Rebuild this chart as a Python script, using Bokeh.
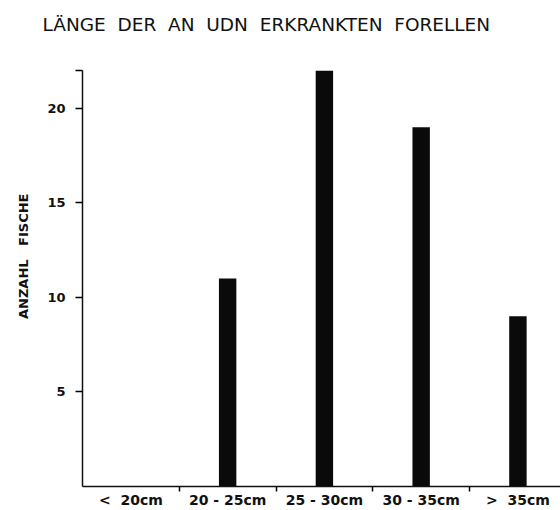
from bokeh.plotting import figure
from bokeh.models import Range1d, FixedTicker, Title
from bokeh.embed import file_html
from bokeh.resources import INLINE

NB = "\u00a0"
title_words = ["LÄNGE", "DER", "AN", "UDN", "ERKRANKTEN", "FORELLEN"]
y_label_words = ["ANZAHL", "FISCHE"]
categories = ["<" + NB + NB + "20cm", "20 - 25cm", "25 - 30cm", "30 - 35cm", ">" + NB + NB + "35cm"]
counts = [0, 11, 22, 19, 9]
y_ticks = [5, 10, 15, 20]
y_max = 22

centers = [i + 0.5 for i in range(len(categories))]
bounds = [i + 1 for i in range(len(categories) - 1)]

p = figure(width=560, height=510, output_backend="svg", toolbar_location=None,
           x_range=Range1d(0, 4.94), y_range=Range1d(0, y_max),
           min_border_left=82, min_border_right=0, min_border_top=70, min_border_bottom=0)
p.background_fill_color = "white"
p.border_fill_color = "white"
p.outline_line_color = None
p.grid.visible = False

# spacer between frame and title
p.add_layout(Title(text=NB, text_font_size="10px", standoff=8), "above")
t = Title(text=(NB * 2).join(title_words), align="left", offset=-40, standoff=26,
          vertical_align="top",
          text_font="DejaVu Sans", text_font_size="18.5px", text_font_style="normal",
          text_color="#111111")
p.add_layout(t, "above")

yl = Title(text=(NB * 3).join(y_label_words), align="right", offset=123, standoff=24,
           vertical_align="top",
           text_font="DejaVu Sans", text_font_size="13px", text_font_style="bold",
           text_color="#111111")
p.add_layout(yl, "left")

p.vbar(x=centers, top=counts, width=0.18, bottom=0, fill_color="#0a0a0a", line_color=None)

xa = p.xaxis[0]
xa.axis_label = None
xa.ticker = FixedTicker(ticks=centers, minor_ticks=bounds)
xa.major_label_overrides = {c: lab for c, lab in zip(centers, categories)}
xa.major_tick_out = 0
xa.major_tick_in = 0
xa.minor_tick_out = 5
xa.minor_tick_in = 0
xa.minor_tick_line_width = 1.5
xa.major_label_standoff = 0
xa.major_label_text_font = "DejaVu Sans"
xa.major_label_text_font_style = "bold"
xa.major_label_text_font_size = "14px"
xa.major_label_text_color = "#111111"
xa.axis_line_width = 1.5
xa.axis_line_color = "#111111"

ya = p.yaxis[0]
ya.axis_label = None
ya.ticker = FixedTicker(ticks=y_ticks + [y_max], minor_ticks=[])
ya.major_label_overrides = {y_max: ""}
ya.major_tick_out = 7
ya.major_tick_in = 0
ya.major_tick_line_width = 1.5
ya.major_label_standoff = 10
ya.major_label_text_font = "DejaVu Sans"
ya.major_label_text_font_style = "bold"
ya.major_label_text_font_size = "13px"
ya.major_label_text_color = "#111111"
ya.axis_line_width = 1.5
ya.axis_line_color = "#111111"

open("out.html", "w").write(file_html(p, INLINE))
